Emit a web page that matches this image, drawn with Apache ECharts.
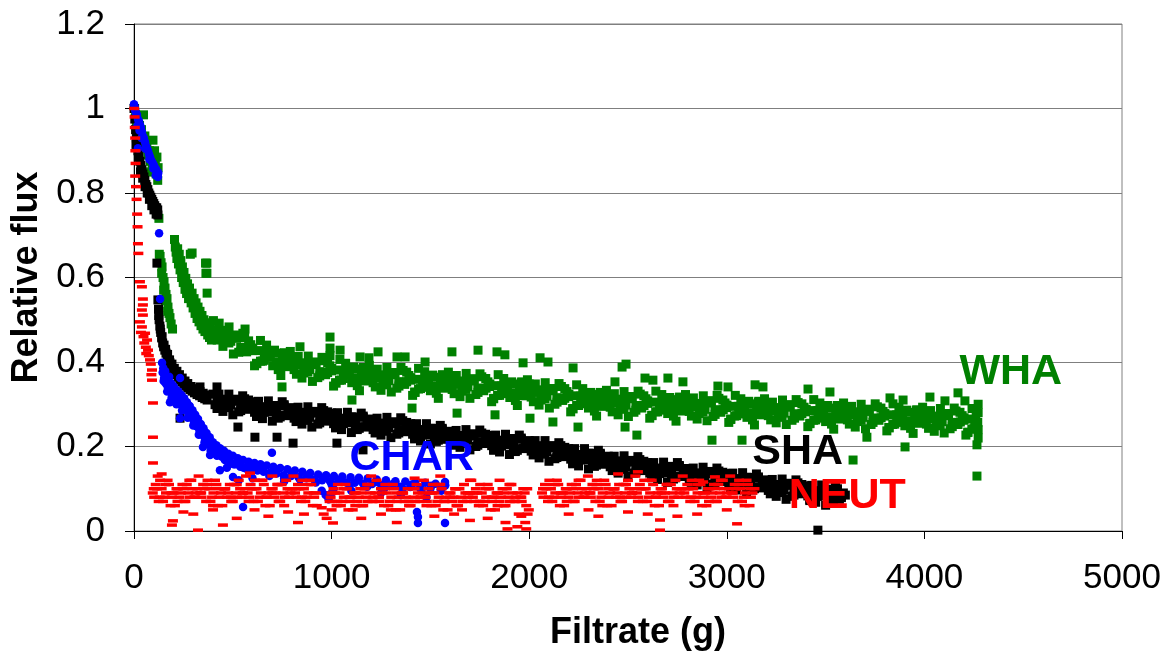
<!DOCTYPE html>
<html>
<head>
<meta charset="utf-8">
<title>Relative flux vs filtrate</title>
<script src="https://cdn.jsdelivr.net/npm/echarts@6/dist/echarts.min.js"></script>
<style>
  html, body { margin: 0; padding: 0; background: #ffffff; }
  #chart { width: 1172px; height: 664px; }
</style>
</head>
<body>
<div id="chart"></div>
<script>
// Filtrate mass (g) and relative flux for each humic / charged fraction.
const seriesNames = ['WHA', 'SHA', 'CHAR', 'NEUT'];

const whaPoints = [
  [3,1.0],[8,0.985],[12,0.97],[18,0.975],[22,0.955],[28,0.96],[32,0.94],[38,0.95],[42,0.93],[48,0.985],
  [50,0.92],[55,0.935],[60,0.905],[65,0.915],[70,0.89],[72,0.85],[78,0.9],[82,0.875],[88,0.89],[92,0.865],
  [96,0.925],[100,0.85],[104,0.9],[108,0.87],[112,0.845],[116,0.885],[120,0.83],[122,0.86],[126,0.74],[128,0.655],
  [132,0.65],[137,0.635],[140,0.61],[142,0.625],[147,0.6],[150,0.57],[152,0.59],[157,0.575],[160,0.545],[162,0.56],
  [167,0.55],[170,0.52],[172,0.53],[177,0.515],[182,0.505],[188,0.49],[195,0.478],
  [205,0.69],[209,0.672],[213,0.66],[217,0.645],[221,0.668],[225,0.632],[229,0.655],[233,0.618],[237,0.64],[241,0.6],
  [245,0.625],[249,0.588],[253,0.612],[258,0.572],[262,0.598],[266,0.562],[271,0.585],[276,0.55],[281,0.575],[285,0.655],
  [289,0.54],[294,0.563],[299,0.528],[304,0.55],[309,0.515],[314,0.54],[319,0.503],[324,0.53],[329,0.495],[334,0.52],
  [339,0.486],[344,0.51],[349,0.478],[354,0.5],[359,0.472],[362,0.634],[364,0.61],[367,0.493],[370,0.563],[373,0.464],
  [377,0.486],[382,0.458],[387,0.48],[392,0.452],[397,0.474],
  [402,0.498],[410,0.465],[421,0.452],[431,0.492],[440,0.472],[450,0.437],[462,0.454],[471,0.468],[481,0.483],[490,0.449],
  [503,0.419],[511,0.464],[519,0.456],[530,0.423],[542,0.425],[551,0.468],[560,0.458],[570,0.424],[583,0.427],[591,0.441],
  [601,0.433],[610,0.391],[622,0.396],[631,0.427],[640,0.451],[650,0.402],[659,0.404],[671,0.44],[681,0.414],[690,0.411],
  [702,0.391],[711,0.428],[720,0.421],[730,0.382],[743,0.368],[751,0.406],[761,0.422],[770,0.389],[779,0.392],[791,0.425],
  [800,0.413],[810,0.382],[822,0.371],[831,0.413],[841,0.395],[850,0.362],[860,0.381],[871,0.397],[882,0.414],[890,0.382],
  [903,0.354],[911,0.4],[921,0.394],[930,0.363],[940,0.367],[951,0.411],[962,0.403],[970,0.37],[980,0.375],[991,0.391],
  [1001,0.385],[1010,0.343],[1023,0.35],[1031,0.381],[1042,0.406],[1050,0.357],[1060,0.361],[1071,0.397],[1079,0.372],[1090,0.369],
  [1102,0.351],[1111,0.388],[1120,0.383],[1130,0.344],[1141,0.332],[1151,0.37],[1160,0.387],[1170,0.355],[1182,0.359],[1191,0.392],
  [1200,0.382],[1210,0.351],[1221,0.341],[1231,0.383],[1243,0.366],[1250,0.333],[1261,0.353],[1271,0.369],[1280,0.387],[1290,0.356],
  [1302,0.329],[1311,0.375],[1320,0.37],[1330,0.338],[1341,0.343],[1351,0.387],[1362,0.38],[1370,0.347],[1380,0.353],[1391,0.368],
  [1401,0.363],[1410,0.321],[1423,0.328],[1431,0.359],[1440,0.385],[1450,0.337],[1462,0.34],[1471,0.377],[1481,0.353],[1490,0.35],
  [1500,0.332],[1511,0.369],[1522,0.364],[1530,0.326],[1540,0.314],[1551,0.352],[1561,0.37],[1570,0.338],[1580,0.343],[1591,0.376],
  [1602,0.366],[1610,0.335],[1620,0.325],[1631,0.368],[1641,0.351],[1650,0.318],[1663,0.338],[1671,0.355],[1681,0.373],[1690,0.341],
  [1700,0.314],[1711,0.36],[1722,0.355],[1730,0.323],[1741,0.328],[1751,0.372],[1760,0.365],[1770,0.332],[1782,0.338],[1791,0.353],
  [1801,0.348],[1810,0.306],[1820,0.313],[1831,0.344],[1843,0.37],[1850,0.321],[1861,0.325],[1871,0.361],[1880,0.337],[1890,0.334],
  [1902,0.316],[1911,0.353],[1921,0.348],[1930,0.309],[1940,0.297],[1951,0.335],[1962,0.353],[1970,0.32],[1981,0.325],[1991,0.358],
  [2000,0.348],[2010,0.317],[2021,0.306],[2031,0.348],[2042,0.331],[2050,0.298],[2060,0.317],[2071,0.333],[2081,0.351],[2090,0.319],
  [2102,0.291],[2111,0.337],[2120,0.332],[2130,0.3],[2141,0.305],[2151,0.349],[2163,0.342],[2170,0.309],[2180,0.314],[2191,0.33],
  [2201,0.324],[2210,0.282],[2222,0.289],[2231,0.32],[2240,0.346],[2250,0.297],[2262,0.301],[2271,0.337],[2281,0.312],[2290,0.31],
  [2300,0.291],[2311,0.328],[2322,0.323],[2330,0.284],[2341,0.272],[2351,0.31],[2360,0.328],[2370,0.295],[2382,0.3],[2391,0.333],
  [2401,0.323],[2410,0.293],[2420,0.282],[2431,0.325],[2443,0.308],[2450,0.275],[2461,0.295],[2471,0.312],[2480,0.33],[2490,0.298],
  [2502,0.271],[2511,0.318],[2521,0.313],[2530,0.281],[2540,0.286],[2551,0.331],[2562,0.324],[2570,0.291],[2581,0.297],[2591,0.313],
  [2600,0.308],[2610,0.267],[2622,0.273],[2631,0.305],[2641,0.331],[2650,0.282],[2660,0.286],[2671,0.323],[2682,0.299],[2690,0.296],
  [2701,0.278],[2711,0.316],[2720,0.311],[2730,0.272],[2743,0.26],[2751,0.299],[2761,0.317],[2770,0.284],[2780,0.289],[2791,0.323],
  [2802,0.313],[2810,0.283],[2821,0.272],[2831,0.315],[2840,0.298],[2850,0.265],[2862,0.285],[2871,0.302],[2881,0.32],[2890,0.288],
  [2900,0.261],[2911,0.308],[2922,0.303],[2930,0.271],[2941,0.276],[2951,0.321],[2960,0.314],[2970,0.281],[2982,0.287],[2991,0.303],
  [3001,0.298],[3010,0.257],[3020,0.264],[3031,0.295],[3043,0.321],[3050,0.273],[3061,0.277],[3071,0.313],[3080,0.289],[3090,0.287],
  [3102,0.269],[3111,0.307],[3121,0.301],[3130,0.263],[3140,0.251],[3151,0.289],[3162,0.307],[3170,0.275],[3181,0.28],[3191,0.313],
  [3200,0.303],[3210,0.273],[3222,0.263],[3231,0.305],[3241,0.288],[3250,0.256],[3260,0.276],[3271,0.292],[3282,0.31],[3290,0.279],
  [3301,0.252],[3311,0.299],[3320,0.293],[3330,0.262],[3343,0.267],[3351,0.311],[3361,0.304],[3370,0.272],[3380,0.278],[3391,0.293],
  [3402,0.288],[3410,0.247],[3421,0.254],[3431,0.285],[3440,0.311],[3450,0.263],[3462,0.267],[3471,0.303],[3481,0.279],[3490,0.277],
  [3500,0.259],[3511,0.297],[3522,0.291],[3530,0.253],[3541,0.241],[3551,0.279],[3560,0.297],[3570,0.265],[3582,0.27],[3591,0.303],
  [3601,0.293],[3610,0.263],[3620,0.253],[3631,0.295],[3643,0.278],[3650,0.246],[3661,0.266],[3671,0.282],[3680,0.3],[3690,0.269],
  [3702,0.242],[3711,0.288],[3721,0.283],[3730,0.252],[3740,0.257],[3751,0.301],[3762,0.294],[3770,0.262],[3781,0.268],[3791,0.283],
  [3800,0.278],[3810,0.237],[3822,0.244],[3831,0.275],[3841,0.301],[3850,0.253],[3860,0.257],[3871,0.293],[3882,0.269],[3890,0.267],
  [3901,0.249],[3911,0.286],[3920,0.281],[3930,0.243],[3943,0.231],[3951,0.269],[3961,0.287],[3970,0.255],[3980,0.26],[3991,0.293],
  [4002,0.283],[4010,0.253],[4021,0.243],[4031,0.285],[4040,0.268],[4050,0.236],[4062,0.256],[4071,0.272],[4081,0.29],[4090,0.259],
  [4100,0.232],[4111,0.278],[4122,0.273],[4130,0.242],[4141,0.247],[4151,0.291],[4160,0.284],[4170,0.252],[4182,0.258],[4191,0.273],
  [4201,0.268],[4210,0.227],[4220,0.233],[4231,0.265],[4241,0.29],[4250,0.242],[4255,0.245],[4262,0.282],[4268,0.255],[4270,0.257],
  [4272,0.3],[4272,0.28],[4272,0.24],[4272,0.22],
  [420,0.474],[460,0.447],[500,0.462],[540,0.435],[580,0.45],[620,0.397],[660,0.422],[700,0.425],[740,0.394],[780,0.401],
  [820,0.393],[860,0.374],[900,0.397],[940,0.377],[980,0.398],[1020,0.351],[1060,0.379],[1100,0.385],[1140,0.358],[1180,0.368],
  [1220,0.363],[1260,0.346],[1300,0.372],[1340,0.353],[1380,0.376],[1420,0.329],[1460,0.358],[1500,0.366],[1540,0.34],[1580,0.352],
  [1620,0.347],[1660,0.331],[1700,0.357],[1740,0.338],[1780,0.361],[1820,0.314],[1860,0.343],[1900,0.35],[1940,0.323],[1980,0.334],
  [2020,0.328],[2060,0.31],[2100,0.334],[2140,0.315],[2180,0.337],[2220,0.29],[2260,0.319],[2300,0.325],[2340,0.298],[2380,0.309],
  [2420,0.304],[2460,0.288],[2500,0.314],[2540,0.296],[2580,0.32],[2620,0.274],[2660,0.304],[2700,0.312],[2740,0.286],[2780,0.298],
  [2820,0.294],[2860,0.278],[2900,0.304],[2940,0.286],[2980,0.31],[3020,0.265],[3060,0.295],[3100,0.303],[3140,0.277],[3180,0.289],
  [3220,0.285],[3260,0.269],[3300,0.295],[3340,0.277],[3380,0.301],[3420,0.255],[3460,0.285],[3500,0.293],[3540,0.267],[3580,0.279],
  [3620,0.275],[3660,0.259],[3700,0.285],[3740,0.267],[3780,0.291],[3820,0.245],[3860,0.275],[3900,0.283],[3940,0.257],[3980,0.269],
  [4020,0.265],[4060,0.249],[4100,0.275],[4140,0.257],[4180,0.281],[4220,0.234],[4260,0.263],
  [440,0.475],[480,0.445],[520,0.461],[560,0.431],[600,0.427],[640,0.402],[680,0.423],[720,0.4],[760,0.42],[800,0.393],
  [840,0.398],[880,0.376],[920,0.399],[960,0.376],[1000,0.379],[1040,0.357],[1080,0.381],[1120,0.362],[1160,0.385],[1200,0.362],
  [1240,0.369],[1280,0.349],[1320,0.375],[1360,0.353],[1400,0.357],[1440,0.336],[1480,0.362],[1520,0.343],[1560,0.368],[1600,0.346],
  [1640,0.354],[1680,0.335],[1720,0.36],[1760,0.338],[1800,0.342],[1840,0.321],[1880,0.346],[1920,0.327],[1960,0.351],[2000,0.328],
  [2040,0.334],[2080,0.313],[2120,0.337],[2160,0.315],[2200,0.318],[2240,0.297],[2280,0.321],[2320,0.302],[2360,0.326],[2400,0.303],
  [2440,0.311],[2480,0.292],[2520,0.318],[2560,0.297],[2600,0.302],[2640,0.282],[2680,0.308],[2720,0.29],[2760,0.315],[2800,0.293],
  [2840,0.301],[2880,0.282],[2920,0.308],[2960,0.287],[3000,0.292],[3040,0.272],[3080,0.298],[3120,0.28],[3160,0.305],[3200,0.283],
  [3240,0.291],[3280,0.272],[3320,0.298],[3360,0.277],[3400,0.282],[3440,0.262],[3480,0.288],[3520,0.27],[3560,0.295],[3600,0.273],
  [3640,0.281],[3680,0.262],[3720,0.288],[3760,0.267],[3800,0.272],[3840,0.252],[3880,0.278],[3920,0.26],[3960,0.285],[4000,0.263],
  [4040,0.271],[4080,0.252],[4120,0.278],[4160,0.257],[4200,0.262],[4240,0.241],
  [294,0.658],[369,0.634],[369,0.61],[562,0.478],[840,0.436],[992,0.459],[992,0.433],[992,0.415],[1043,0.428],[1144,0.412],
  [1189,0.41],[1235,0.424],[1331,0.412],[1372,0.412],[1473,0.4],[1609,0.424],[1741,0.428],[1837,0.424],[1877,0.417],[1969,0.398],
  [2055,0.41],[2095,0.4],[2222,0.386],[2434,0.353],[2470,0.388],[2490,0.395],[2586,0.362],[2626,0.357],[2702,0.362],[2778,0.353],
  [2955,0.343],[3006,0.341],[3143,0.346],[3183,0.341],[3411,0.336],[3522,0.329],[3826,0.315],[3892,0.31],[4028,0.317],[4104,0.308],
  [4170,0.327],[4205,0.308],
  [749,0.341],[1103,0.31],[1407,0.291],[1635,0.279],[1827,0.275],[2004,0.267],[2120,0.258],[2247,0.246],[2485,0.246],[2545,0.227],
  [2925,0.215],[3077,0.215],[3709,0.222],[3639,0.168],[3902,0.199],[4266,0.204],[4266,0.13]
];

const shaPoints = [
  [0,1.0],[4,0.975],[8,0.95],[10,0.915],[12,0.93],[15,0.91],[20,0.9],[22,0.885],[25,0.885],[30,0.875],
  [33,0.85],[35,0.865],[40,0.855],[44,0.835],[45,0.845],[50,0.838],[55,0.83],[56,0.815],[60,0.82],[65,0.815],
  [67,0.8],[70,0.808],[75,0.8],[78,0.785],[80,0.795],[85,0.79],[90,0.785],[90,0.77],[95,0.78],[100,0.775],
  [101,0.76],[105,0.77],[110,0.765],[112,0.75],[115,0.765],[120,0.76],[121,0.748],
  [116,0.634],[121,0.547],[124,0.525],[125,0.51],[127,0.5],[131,0.485],[133,0.478],[135,0.47],[140,0.457],[142,0.46],
  [145,0.445],[150,0.436],[152,0.44],[156,0.428],[160,0.43],[162,0.421],[168,0.412],[170,0.418],[175,0.404],[180,0.405],
  [182,0.398],[190,0.39],[192,0.395],[198,0.383],[204,0.385],[206,0.376],[215,0.37],[217,0.378],[224,0.364],[230,0.37],
  [233,0.358],[242,0.353],[244,0.362],[252,0.348],[258,0.355],[262,0.343],[272,0.339],[272,0.349],[283,0.335],[288,0.342],
  [294,0.331],[303,0.337],[306,0.327],[318,0.333],[319,0.323],[332,0.32],[334,0.33],[345,0.316],[350,0.326],[358,0.313],
  [366,0.322],[370,0.31],
  [400,0.324],[410,0.299],[420,0.29],[430,0.324],[440,0.309],[450,0.283],[460,0.297],[470,0.31],[480,0.324],[490,0.298],
  [500,0.275],[510,0.312],[520,0.307],[530,0.282],[540,0.285],[550,0.32],[560,0.313],[570,0.288],[580,0.292],[590,0.303],
  [600,0.306],[610,0.281],[620,0.273],[630,0.307],[640,0.292],[650,0.266],[660,0.281],[670,0.294],[680,0.308],[690,0.282],
  [700,0.26],[710,0.297],[720,0.293],[730,0.267],[740,0.27],[750,0.306],[760,0.299],[770,0.273],[780,0.277],[790,0.289],
  [800,0.292],[810,0.267],[820,0.259],[830,0.293],[840,0.278],[850,0.253],[860,0.267],[870,0.28],[880,0.294],[890,0.269],
  [900,0.246],[910,0.283],[920,0.279],[930,0.253],[940,0.256],[950,0.292],[960,0.285],[970,0.26],[980,0.264],[990,0.275],
  [1000,0.279],[1010,0.254],[1020,0.246],[1030,0.28],[1040,0.265],[1050,0.24],[1060,0.254],[1070,0.267],[1080,0.281],[1090,0.256],
  [1100,0.233],[1110,0.27],[1120,0.266],[1130,0.24],[1140,0.243],[1150,0.279],[1160,0.272],[1170,0.246],[1180,0.25],[1190,0.262],
  [1200,0.265],[1210,0.24],[1220,0.232],[1230,0.267],[1240,0.252],[1250,0.227],[1260,0.241],[1270,0.255],[1280,0.269],[1290,0.244],
  [1300,0.221],[1310,0.258],[1320,0.254],[1330,0.229],[1340,0.232],[1350,0.268],[1360,0.261],[1370,0.235],[1380,0.239],[1390,0.251],
  [1400,0.254],[1410,0.229],[1420,0.22],[1430,0.254],[1440,0.239],[1450,0.213],[1460,0.227],[1470,0.24],[1480,0.254],[1490,0.228],
  [1500,0.206],[1510,0.243],[1520,0.238],[1530,0.212],[1540,0.215],[1550,0.25],[1560,0.243],[1570,0.217],[1580,0.221],[1590,0.232],
  [1600,0.236],[1610,0.212],[1620,0.203],[1630,0.238],[1640,0.223],[1650,0.198],[1660,0.212],[1670,0.226],[1680,0.24],[1690,0.215],
  [1700,0.192],[1710,0.23],[1720,0.225],[1730,0.2],[1740,0.203],[1750,0.239],[1760,0.232],[1770,0.207],[1780,0.211],[1790,0.223],
  [1800,0.226],[1810,0.202],[1820,0.193],[1830,0.227],[1840,0.212],[1850,0.187],[1860,0.201],[1870,0.215],[1880,0.229],[1890,0.204],
  [1900,0.181],[1910,0.219],[1920,0.214],[1930,0.188],[1940,0.191],[1950,0.227],[1960,0.22],[1970,0.195],[1980,0.199],[1990,0.21],
  [2000,0.214],[2010,0.189],[2020,0.18],[2030,0.214],[2040,0.199],[2050,0.173],[2060,0.187],[2070,0.2],[2080,0.214],[2090,0.188],
  [2100,0.165],[2110,0.202],[2120,0.197],[2130,0.171],[2140,0.174],[2150,0.209],[2160,0.202],[2170,0.176],[2180,0.18],[2190,0.191],
  [2200,0.195],[2210,0.17],[2220,0.161],[2230,0.195],[2240,0.18],[2250,0.154],[2260,0.168],[2270,0.181],[2280,0.195],[2290,0.169],
  [2300,0.147],[2310,0.184],[2320,0.179],[2330,0.153],[2340,0.156],[2350,0.191],[2360,0.184],[2370,0.158],[2380,0.162],[2390,0.173],
  [2400,0.177],[2410,0.152],[2420,0.143],[2430,0.177],[2440,0.163],[2450,0.137],[2460,0.151],[2470,0.164],[2480,0.178],[2490,0.152],
  [2500,0.13],[2510,0.167],[2520,0.163],[2530,0.137],[2540,0.14],[2550,0.176],[2560,0.169],[2570,0.143],[2580,0.147],[2590,0.158],
  [2600,0.162],[2610,0.137],[2620,0.128],[2630,0.162],[2640,0.148],[2650,0.122],[2660,0.136],[2670,0.149],[2680,0.163],[2690,0.137],
  [2700,0.115],[2710,0.153],[2720,0.148],[2730,0.123],[2740,0.126],[2750,0.162],[2760,0.155],[2770,0.129],[2780,0.133],[2790,0.145],
  [2800,0.148],[2810,0.124],[2820,0.115],[2830,0.149],[2840,0.134],[2850,0.109],[2860,0.123],[2870,0.137],[2880,0.151],[2890,0.125],
  [2900,0.103],[2910,0.141],[2920,0.136],[2930,0.11],[2940,0.113],[2950,0.149],[2960,0.142],[2970,0.117],[2980,0.121],[2990,0.132],
  [3000,0.136],[3010,0.111],[3020,0.103],[3030,0.137],[3040,0.122],[3050,0.097],[3060,0.111],[3070,0.124],[3080,0.138],[3090,0.113],
  [3100,0.09],[3110,0.127],[3120,0.122],[3130,0.097],[3140,0.1],[3150,0.135],[3160,0.128],[3170,0.102],[3180,0.106],[3190,0.117],
  [3200,0.121],[3210,0.096],[3220,0.088],[3230,0.122],[3240,0.107],[3250,0.082],[3260,0.096],[3270,0.109],[3280,0.123],[3290,0.097],
  [3300,0.075],[3310,0.113],[3320,0.108],[3330,0.082],[3340,0.085],[3350,0.121],[3360,0.114],[3370,0.088],[3380,0.092],[3390,0.103],
  [3400,0.107],[3410,0.083],[3420,0.074],[3430,0.108],[3440,0.093],[3450,0.068],[3460,0.082],[3470,0.095],[3480,0.109],[3490,0.083],
  [3500,0.061],[3510,0.099],[3520,0.094],[3530,0.068],[3540,0.071],[3550,0.107],[3560,0.1],[3570,0.075],[3580,0.079],[3590,0.09],
  [420,0.308],[460,0.292],[500,0.31],[540,0.293],[580,0.31],[620,0.271],[660,0.293],[700,0.297],[740,0.274],[780,0.281],
  [820,0.277],[860,0.262],[900,0.281],[940,0.264],[980,0.282],[1020,0.244],[1060,0.266],[1100,0.27],[1140,0.247],[1180,0.254],
  [1220,0.25],[1260,0.236],[1300,0.256],[1340,0.24],[1380,0.257],[1420,0.218],[1460,0.239],[1500,0.243],[1540,0.219],[1580,0.225],
  [1620,0.221],[1660,0.207],[1700,0.227],[1740,0.211],[1780,0.229],[1820,0.191],[1860,0.213],[1900,0.218],[1940,0.195],[1980,0.203],
  [2020,0.198],[2060,0.182],[2100,0.2],[2140,0.182],[2180,0.198],[2220,0.159],[2260,0.18],[2300,0.184],[2340,0.16],[2380,0.166],
  [2420,0.161],[2460,0.146],[2500,0.165],[2540,0.148],[2580,0.165],[2620,0.126],[2660,0.148],[2700,0.152],[2740,0.13],[2780,0.137],
  [2820,0.133],[2860,0.118],[2900,0.138],[2940,0.121],[2980,0.139],[3020,0.101],[3060,0.123],[3100,0.127],[3140,0.104],[3180,0.11],
  [3220,0.106],[3260,0.091],[3300,0.11],[3340,0.093],[3380,0.11],[3420,0.072],[3460,0.094],[3500,0.098],[3540,0.075],[3580,0.083],
  [3600,0.085],
  [440,0.312],[480,0.293],[520,0.311],[560,0.292],[600,0.294],[640,0.275],[680,0.294],[720,0.278],[760,0.296],[800,0.276],
  [840,0.281],[880,0.263],[920,0.283],[960,0.264],[1000,0.267],[1040,0.248],[1080,0.267],[1120,0.251],[1160,0.269],[1200,0.249],
  [1240,0.255],[1280,0.238],[1320,0.258],[1360,0.24],[1400,0.242],[1440,0.222],[1480,0.24],[1520,0.223],[1560,0.24],[1600,0.22],
  [1640,0.226],[1680,0.209],[1720,0.229],[1760,0.211],[1800,0.214],[1840,0.195],[1880,0.215],[1920,0.199],[1960,0.217],[2000,0.198],
  [2040,0.202],[2080,0.183],[2120,0.201],[2160,0.181],[2200,0.183],[2240,0.163],[2280,0.181],[2320,0.164],[2360,0.181],[2400,0.161],
  [2440,0.166],[2480,0.147],[2520,0.167],[2560,0.148],[2600,0.15],[2640,0.131],[2680,0.149],[2720,0.133],[2760,0.152],[2800,0.132],
  [2840,0.137],[2880,0.12],[2920,0.14],[2960,0.121],[3000,0.124],[3040,0.105],[3080,0.124],[3120,0.107],[3160,0.125],[3200,0.105],
  [3240,0.11],[3280,0.092],[3320,0.112],[3360,0.093],[3400,0.095],[3440,0.076],[3480,0.095],[3520,0.079],[3560,0.097],
  [233,0.267],[334,0.341],[420,0.341],[526,0.246],[612,0.222],[724,0.222],[805,0.208],[1027,0.208],[1159,0.192],[3461,0.002]
];

const charPoints = [
  [0,1.01],[3,1.005],[6,0.995],[10,0.99],[15,0.985],[18,0.96],[20,0.975],[20,0.906],[25,0.97],[28,0.948],
  [30,0.962],[35,0.955],[38,0.93],[40,0.945],[45,0.935],[50,0.93],[56,0.92],[58,0.905],[62,0.91],[66,0.905],
  [71,0.9],[76,0.892],[78,0.88],[81,0.885],[86,0.878],[91,0.874],[96,0.87],[98,0.858],[101,0.865],[106,0.86],
  [110,0.842],[111,0.856],[116,0.852],[119,0.845],[121,0.838],[123,0.848],[127,0.705],[132,0.549],
  [142,0.398],[145,0.375],[148,0.385],[152,0.362],[156,0.372],[160,0.35],[165,0.365],[170,0.342],[175,0.356],[182,0.33],
  [187,0.35],[193,0.325],[200,0.343],[206,0.318],[212,0.335],[218,0.312],[225,0.33],[233,0.305],[240,0.322],[247,0.296],
  [254,0.314],[261,0.288],[268,0.305],[275,0.28],[282,0.296],[289,0.27],[296,0.286],[303,0.26],[310,0.275],[317,0.248],
  [324,0.265],[331,0.238],[338,0.253],[345,0.228],[352,0.243],[360,0.218],[367,0.232],[375,0.207],[383,0.222],[391,0.198],
  [399,0.21],[408,0.19],[417,0.203],[426,0.183],[435,0.196],[445,0.176],[455,0.19],[466,0.17],[477,0.183],[488,0.162],
  [500,0.178],[512,0.158],[525,0.172],[538,0.152],[552,0.168],[566,0.148],[580,0.164],[595,0.146],[610,0.161],[625,0.143],
  [640,0.158],[656,0.14],[672,0.155],[688,0.138],[705,0.152],[722,0.136],[740,0.149],[758,0.132],[776,0.146],[795,0.13],
  [814,0.143],[833,0.127],[852,0.14],[872,0.125],[892,0.137],[912,0.122],[932,0.134],[952,0.12],[972,0.132],[992,0.118],
  [1012,0.13],[1033,0.117],[1054,0.129],[1075,0.115],[1096,0.127],[1117,0.114],[1138,0.126],[1160,0.112],[1182,0.124],[1205,0.111],
  [1228,0.122],[1251,0.109],[1275,0.12],[1299,0.107],[1323,0.118],[1348,0.105],[1373,0.117],[1398,0.104],[1423,0.115],[1448,0.102],
  [1474,0.114],[1500,0.1],[1526,0.112],[1552,0.098],[1575,0.108],
  [150,0.355],[158,0.378],[168,0.33],[178,0.365],[190,0.315],[203,0.33],[215,0.3],[228,0.315],[243,0.285],[258,0.3],
  [272,0.268],[287,0.283],[300,0.25],[315,0.265],[328,0.228],[343,0.245],[357,0.21],[372,0.225],[388,0.19],[404,0.2],
  [420,0.178],[440,0.188],[460,0.168],[482,0.175],[505,0.158],[530,0.163],[555,0.15],[585,0.155],[615,0.145],[650,0.148],
  [685,0.13],[720,0.145],[760,0.125],[800,0.138],[840,0.122],[880,0.132],[920,0.115],[960,0.126],[1000,0.11],[1045,0.122],
  [1090,0.108],[1135,0.12],[1180,0.105],[1225,0.116],[1270,0.103],[1315,0.113],[1360,0.1],[1405,0.11],[1455,0.097],[1505,0.107],
  [1555,0.095],
  [233,0.362],[182,0.305],[233,0.267],[349,0.199],[385,0.18],[435,0.144],[470,0.15],[501,0.128],[530,0.12],[552,0.057],
  [600,0.125],[698,0.185],[760,0.118],[950,0.095],[970,0.085],[985,0.075],[1000,0.09],[1010,0.1],[1100,0.095],[1250,0.09],
  [1350,0.085],[1480,0.08],[1432,0.045],[1437,0.033],[1437,0.019],[1574,0.116],[1574,0.019]
];

const neutPoints = [
  [1,1.0],[3,0.98],[4,0.955],[6,0.93],[7,0.9],[8,0.87],[6,0.84],[10,0.815],[13,0.785],[16,0.75],
  [18,0.72],[20,0.68],[22,0.657],[30,0.59],[40,0.578],[45,0.549],[45,0.535],[40,0.523],[45,0.511],[30,0.495],
  [40,0.483],[35,0.47],[48,0.46],[56,0.468],[52,0.445],[66,0.452],[60,0.435],[71,0.428],[62,0.42],[75,0.415],
  [81,0.405],[85,0.395],[91,0.381],[88,0.37],[91,0.357],[96,0.303],[96,0.222],[96,0.161],
  [95,0.09],[110,0.11],[125,0.07],[140,0.10],[155,0.08],[170,0.12],[185,0.06],[200,0.09],[215,0.10],[230,0.08],
  [245,0.11],[260,0.07],[275,0.09],[290,0.12],[305,0.08],[320,0.10],[335,0.09],[350,0.11],[365,0.07],[380,0.10],
  [395,0.08],[410,0.12],[425,0.06],[440,0.09],[455,0.10],[470,0.08],[485,0.11],[500,0.07],[515,0.09],[530,0.12],
  [545,0.08],[560,0.10],[575,0.09],[590,0.11],[605,0.07],[620,0.10],[635,0.08],[650,0.12],[665,0.06],[680,0.09],
  [695,0.10],[710,0.08],[725,0.11],[740,0.07],[755,0.09],[770,0.12],[785,0.08],[800,0.10],[815,0.09],[830,0.11],
  [845,0.07],[860,0.10],[875,0.08],[890,0.12],[905,0.06],[920,0.09],
  [102,0.08],[117,0.10],[132,0.12],[147,0.07],[162,0.09],[177,0.11],[192,0.08],[207,0.06],[222,0.10],[237,0.09],
  [252,0.07],[267,0.11],[282,0.08],[297,0.10],[312,0.09],[327,0.13],[342,0.08],[357,0.10],[372,0.12],[387,0.07],
  [402,0.09],[417,0.11],[432,0.08],[447,0.06],[462,0.10],[477,0.09],[492,0.07],[507,0.11],[522,0.08],[537,0.10],
  [552,0.09],[567,0.13],[582,0.08],[597,0.10],[612,0.12],[627,0.07],[642,0.09],[657,0.11],[672,0.08],[687,0.06],
  [702,0.10],[717,0.09],[732,0.07],[747,0.11],[762,0.08],[777,0.10],[792,0.09],[807,0.13],[822,0.08],[837,0.10],
  [852,0.12],[867,0.07],[882,0.09],[897,0.11],[912,0.08],[925,0.06],
  [100,0.10],[130,0.08],[160,0.11],[190,0.09],[220,0.07],[250,0.10],[280,0.12],[310,0.08],[340,0.09],[370,0.11],
  [400,0.06],[430,0.10],[460,0.10],[490,0.08],[520,0.11],[550,0.09],[580,0.07],[610,0.10],[640,0.12],[670,0.08],
  [700,0.09],[730,0.11],[760,0.06],[790,0.10],[820,0.10],[850,0.08],[880,0.11],[910,0.09],
  [192,0.014],[197,0.024],[324,0.002],[450,0.014],[587,0.137],[300,0.04],[520,0.03],[680,0.035],[780,0.045],[400,0.05],
  [250,0.045],[610,0.05],[860,0.04],[120,0.13],[140,0.135],[700,0.13],[830,0.02],[950,0.055],[960,0.04],[975,0.03],
  [1007,0.019],[1000,0.05],[990,0.07],
  [995,0.08],[1010,0.10],[1025,0.06],[1040,0.09],[1055,0.07],[1070,0.11],[1085,0.05],[1100,0.08],[1115,0.09],[1130,0.07],
  [1145,0.10],[1160,0.06],[1175,0.08],[1190,0.11],[1205,0.07],[1220,0.09],[1235,0.08],[1250,0.10],[1265,0.06],[1280,0.09],
  [1295,0.07],[1310,0.11],[1325,0.05],[1340,0.08],[1355,0.09],[1370,0.07],[1385,0.10],[1400,0.06],[1415,0.08],[1430,0.11],
  [1445,0.07],[1460,0.09],[1475,0.08],[1490,0.10],[1505,0.06],[1520,0.09],[1535,0.07],[1550,0.11],[1565,0.05],[1580,0.08],
  [1595,0.09],[1610,0.07],[1625,0.10],[1640,0.06],[1655,0.08],[1670,0.11],[1685,0.07],[1700,0.09],[1715,0.08],[1730,0.10],
  [1745,0.06],[1760,0.09],[1775,0.07],[1790,0.11],[1805,0.05],[1820,0.08],[1835,0.09],[1850,0.07],[1865,0.10],[1880,0.06],
  [1895,0.08],[1910,0.11],[1925,0.07],[1940,0.09],[1955,0.08],[1970,0.10],[1985,0.06],[1998,0.05],
  [1002,0.07],[1017,0.09],[1032,0.11],[1047,0.06],[1062,0.08],[1077,0.10],[1092,0.07],[1107,0.05],[1122,0.09],[1137,0.08],
  [1152,0.06],[1167,0.10],[1182,0.07],[1197,0.09],[1212,0.08],[1227,0.12],[1242,0.07],[1257,0.09],[1272,0.11],[1287,0.06],
  [1302,0.08],[1317,0.10],[1332,0.07],[1347,0.05],[1362,0.09],[1377,0.08],[1392,0.06],[1407,0.10],[1422,0.07],[1437,0.09],
  [1452,0.08],[1467,0.12],[1482,0.07],[1497,0.09],[1512,0.11],[1527,0.06],[1542,0.08],[1557,0.10],[1572,0.07],[1587,0.05],
  [1602,0.09],[1617,0.08],[1632,0.06],[1647,0.10],[1662,0.07],[1677,0.09],[1692,0.08],[1707,0.12],[1722,0.07],[1737,0.09],
  [1752,0.11],[1767,0.06],[1782,0.08],[1797,0.10],[1812,0.07],[1827,0.05],[1842,0.09],[1857,0.08],[1872,0.06],[1887,0.10],
  [1902,0.07],[1917,0.09],[1932,0.08],[1947,0.04],[1962,0.07],[1977,0.09],[1992,0.04],
  [1000,0.09],[1030,0.07],[1060,0.10],[1090,0.08],[1120,0.06],[1150,0.09],[1180,0.11],[1210,0.07],[1240,0.08],[1270,0.10],
  [1300,0.05],[1330,0.09],[1360,0.09],[1390,0.07],[1420,0.10],[1450,0.08],[1480,0.06],[1510,0.09],[1540,0.11],[1570,0.07],
  [1600,0.08],[1630,0.10],[1660,0.05],[1690,0.09],[1720,0.09],[1750,0.07],[1780,0.10],[1810,0.08],[1840,0.06],[1870,0.09],
  [1900,0.11],[1930,0.07],[1960,0.08],[1990,0.10],
  [1150,0.03],[1250,0.04],[1330,0.02],[1520,0.035],[1620,0.04],[1700,0.025],[1790,0.03],[1880,0.02],[1940,0.01],[1960,0.035],
  [1980,0.02],[1200,0.13],[1420,0.125],[1550,0.13],[1700,0.12],[1850,0.12],[1890,0.005],[1985,0.005],
  [2065,0.09],[2080,0.11],[2095,0.07],[2110,0.10],[2125,0.08],[2140,0.12],[2155,0.06],[2170,0.09],[2185,0.10],[2200,0.08],
  [2215,0.11],[2230,0.07],[2245,0.09],[2260,0.12],[2275,0.08],[2290,0.10],[2305,0.09],[2320,0.11],[2335,0.07],[2350,0.10],
  [2365,0.08],[2380,0.12],[2395,0.06],[2410,0.09],[2425,0.10],[2440,0.08],[2455,0.11],[2470,0.07],[2485,0.09],[2500,0.12],
  [2515,0.08],[2530,0.10],[2545,0.09],[2560,0.11],[2575,0.07],[2590,0.10],[2605,0.08],[2620,0.12],[2635,0.06],[2650,0.09],
  [2665,0.10],[2680,0.08],[2695,0.11],[2710,0.07],[2725,0.09],[2740,0.12],[2755,0.08],[2770,0.10],[2785,0.09],[2800,0.11],
  [2815,0.07],[2830,0.10],[2845,0.08],[2860,0.12],[2875,0.06],[2890,0.09],[2905,0.10],[2920,0.08],[2935,0.11],[2950,0.07],
  [2965,0.09],[2980,0.12],[2995,0.08],[3010,0.10],[3025,0.09],[3040,0.11],[3055,0.07],[3070,0.10],[3085,0.08],[3100,0.12],
  [3115,0.06],[3130,0.09],
  [2072,0.08],[2087,0.10],[2102,0.12],[2117,0.07],[2132,0.09],[2147,0.11],[2162,0.08],[2177,0.06],[2192,0.10],[2207,0.09],
  [2222,0.07],[2237,0.11],[2252,0.08],[2267,0.10],[2282,0.09],[2297,0.13],[2312,0.08],[2327,0.10],[2342,0.12],[2357,0.07],
  [2372,0.09],[2387,0.11],[2402,0.08],[2417,0.06],[2432,0.10],[2447,0.09],[2462,0.07],[2477,0.11],[2492,0.08],[2507,0.10],
  [2522,0.09],[2537,0.13],[2552,0.08],[2567,0.10],[2582,0.12],[2597,0.07],[2612,0.09],[2627,0.11],[2642,0.08],[2657,0.06],
  [2672,0.10],[2687,0.09],[2702,0.07],[2717,0.11],[2732,0.08],[2747,0.10],[2762,0.09],[2777,0.13],[2792,0.08],[2807,0.10],
  [2822,0.12],[2837,0.07],[2852,0.09],[2867,0.11],[2882,0.08],[2897,0.06],[2912,0.10],[2927,0.09],[2942,0.07],[2957,0.11],
  [2972,0.08],[2987,0.10],[3002,0.09],[3017,0.13],[3032,0.08],[3047,0.10],[3062,0.12],[3077,0.07],[3092,0.09],[3107,0.11],
  [3122,0.08],[3140,0.10],
  [2070,0.10],[2100,0.08],[2130,0.11],[2160,0.09],[2190,0.07],[2220,0.10],[2250,0.12],[2280,0.08],[2310,0.09],[2340,0.11],
  [2370,0.06],[2400,0.10],[2430,0.10],[2460,0.08],[2490,0.11],[2520,0.09],[2550,0.07],[2580,0.10],[2610,0.12],[2640,0.08],
  [2670,0.09],[2700,0.11],[2730,0.06],[2760,0.10],[2790,0.10],[2820,0.08],[2850,0.11],[2880,0.09],[2910,0.07],[2940,0.10],
  [2970,0.12],[3000,0.08],[3030,0.09],[3060,0.11],[3090,0.06],[3120,0.10],
  [2662,0.026],[2662,0.002],[3052,0.017],[2940,0.128],[2880,0.116],[2200,0.04],[2350,0.035],[2500,0.045],[2600,0.04],[2750,0.035],
  [2850,0.04],[3000,0.05],[2300,0.05],[2450,0.135],[2550,0.14]
];

const FONT = '"Liberation Sans", Arial, Helvetica, sans-serif';

// Series name printed beside each cloud, anchored in data units.
function nameTag(text, coord, color) {
  return {
    silent: true,
    symbol: 'rect',
    symbolSize: 1,
    itemStyle: { color: 'rgba(0,0,0,0)' },
    label: {
      show: true,
      position: 'inside',
      formatter: text,
      color: color,
      fontFamily: FONT,
      fontSize: 43,
      fontWeight: 'bold'
    },
    data: [{ coord: coord, name: text }]
  };
}

const chart = echarts.init(document.getElementById('chart'), null, { renderer: 'canvas' });

chart.setOption({
  animation: false,
  backgroundColor: '#ffffff',
  textStyle: { fontFamily: FONT },
  grid: {
    left: 134, right: 50, top: 24, bottom: 133,
    show: true, borderColor: '#808080', borderWidth: 1
  },
  xAxis: {
    type: 'value', min: 0, max: 5000, interval: 1000,
    name: 'Filtrate (g)', nameLocation: 'middle', nameGap: 84,
    nameTextStyle: { fontFamily: FONT, fontSize: 36, fontWeight: 'bold', color: '#000', padding: [0, 0, 0, 20] },
    axisLine: { show: true, lineStyle: { color: '#000', width: 1 } },
    axisTick: { show: true, inside: false, length: 8, lineStyle: { color: '#000' } },
    axisLabel: { fontFamily: FONT, fontSize: 35, color: '#000', margin: 30, formatter: v => String(v) },
    splitLine: { show: false }
  },
  yAxis: {
    type: 'value', min: 0, max: 1.2, interval: 0.2,
    name: 'Relative flux', nameLocation: 'middle', nameGap: 79, nameRotate: 90,
    nameTextStyle: { fontFamily: FONT, fontSize: 36, fontWeight: 'bold', color: '#000' },
    axisLine: { show: true, lineStyle: { color: '#000', width: 1 } },
    axisTick: { show: true, inside: false, length: 9, lineStyle: { color: '#000' } },
    axisLabel: { fontFamily: FONT, fontSize: 35, color: '#000', margin: 29 },
    splitLine: { show: true, lineStyle: { color: '#7f7f7f', width: 1 } }
  },
  series: [
    {
      name: seriesNames[0], type: 'scatter', data: whaPoints, large: false,
      symbol: 'rect', symbolSize: 9, itemStyle: { color: '#008000', opacity: 1 },
      markPoint: nameTag(seriesNames[0], [4437, 0.375], '#008000')
    },
    {
      name: seriesNames[1], type: 'scatter', data: shaPoints, large: false,
      symbol: 'rect', symbolSize: 9, itemStyle: { color: '#000000', opacity: 1 },
      markPoint: nameTag(seriesNames[1], [3359, 0.187], '#000000')
    },
    {
      name: seriesNames[2], type: 'scatter', data: charPoints, large: false,
      symbol: 'circle', symbolSize: 8.5, itemStyle: { color: '#0000ff', opacity: 1 },
      markPoint: nameTag(seriesNames[2], [1405, 0.173], '#0000ff')
    },
    {
      name: seriesNames[3], type: 'scatter', data: neutPoints, large: false,
      symbol: 'rect', symbolSize: [10, 3.5], itemStyle: { color: '#ff0000', opacity: 1 },
      markPoint: nameTag(seriesNames[3], [3610, 0.082], '#ff0000')
    }
  ]
});
</script>
</body>
</html>
